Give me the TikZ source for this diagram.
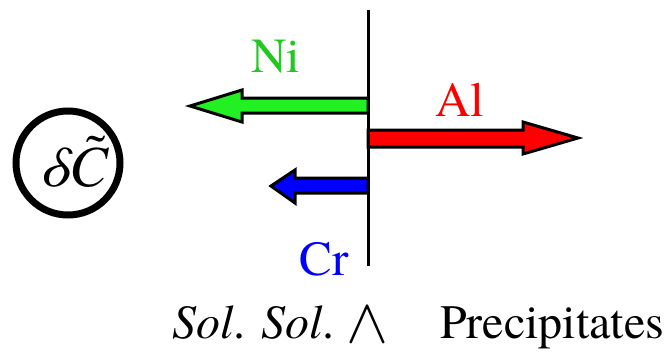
\documentclass[tikz,border=0pt]{standalone}
\usepackage{fontspec}
\setmainfont{texgyretermes}[Extension=.otf,UprightFont=*-regular,ItalicFont=*-italic,BoldFont=*-bold,BoldItalicFont=*-bolditalic]
\definecolor{nifill}{HTML}{22F022}
\definecolor{nitext}{HTML}{22C822}
\definecolor{alred}{HTML}{FF0000}
\definecolor{crblue}{HTML}{0000FF}
\begin{document}
\begin{tikzpicture}[x=1pt,y=-1pt,
  arrowshape/.style={draw=black,line width=3pt,line join=miter,miter limit=20},
  lbl/.style={inner sep=0pt,anchor=base,font=\fontsize{49}{58}\selectfont},
  btxt/.style={inner sep=0pt,anchor=base west,font=\fontsize{48}{58}\selectfont}]
\useasboundingbox (0,0) rectangle (666,351);
% arrows
\fill[nifill,arrowshape] (368,98) -- (242,98) -- (242,90) -- (190,106) -- (242,122) -- (242,113) -- (368,113) -- cycle;
\fill[alred,arrowshape] (368,130) -- (523,130) -- (523,122) -- (578,138) -- (523,154) -- (523,147) -- (368,147) -- cycle;
\fill[crblue,arrowshape] (368,178) -- (295,178) -- (295,170) -- (271,186) -- (295,203) -- (295,193) -- (368,193) -- cycle;
% interface line
\coordinate (top) at (368,10);
\coordinate (bot) at (368,266);
\draw[line width=3pt] (top) -- (bot);
% labels
\node[lbl,text=nitext] (ni) at (276,72) {Ni};
\node[lbl,text=alred] (al) at (460,116) {Al};
\node[lbl,text=crblue] (cr) at (324,275) {Cr};
% circle
\node[draw,circle,line width=7pt,minimum size=104pt,inner sep=0pt] (dc) at (68,163) {};
\node[inner sep=0pt,anchor=base,font=\fontsize{58}{66}\selectfont] (dctext) at (74,186) {\textit{δC\kern-0.45em\raisebox{0.22em}{\char"02DC}\kern0.117em}};
% bottom text
\node[btxt] (sol) at (172,338) {\textit{Sol}. \textit{Sol}.};
\node[inner sep=0pt,anchor=base] (wedge) at (367,342) {\scalebox{6.3}{$\wedge$}};
\node[btxt] (prec) at (440,338) {Precipitates};
\end{tikzpicture}
\end{document}
